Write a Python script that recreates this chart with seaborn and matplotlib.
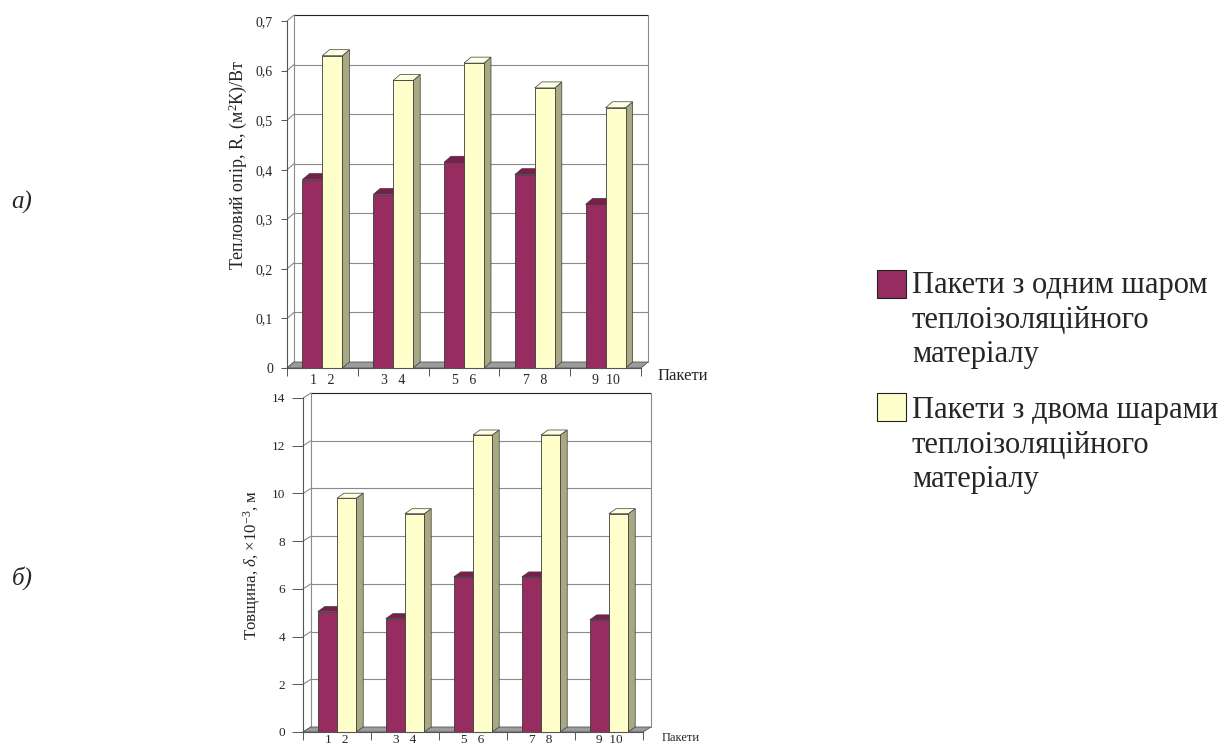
import numpy as np
import pandas as pd
import matplotlib
matplotlib.use("Agg")
import matplotlib.pyplot as plt
import seaborn as sns
from matplotlib.patches import Polygon, Rectangle
from matplotlib.lines import Line2D
from matplotlib.transforms import IdentityTransform

# ---------------- data ----------------
groups = ["1   2", "3   4", "5   6", "7   8", "9  10"]
series = ["Пакети з одним шаром\nтеплоізоляційного\nматеріалу",
          "Пакети з двома шарами\nтеплоізоляційного\nматеріалу"]
resistance_one = [0.38, 0.35, 0.415, 0.39, 0.33]
resistance_two = [0.63, 0.58, 0.615, 0.565, 0.525]
thickness_one = [5.05, 4.75, 6.5, 6.5, 4.7]
thickness_two = [9.8, 9.15, 12.45, 12.45, 9.15]
r_ticks = [0, 0.1, 0.2, 0.3, 0.4, 0.5, 0.6, 0.7]
r_ticklabels = ["0", "0,1", "0,2", "0,3", "0,4", "0,5", "0,6", "0,7"]
d_ticks = [0, 2, 4, 6, 8, 10, 12, 14]
d_ticklabels = ["0", "2", "4", "6", "8", "10", "12", "14"]

# ---------------- style ----------------
C_FRONT = ["#962C60", "#FFFFCC"]
C_TOP = ["#7A1E4B", "#FFFFE2"]
C_SIDE = ["#6A1840", "#A8A882"]
EDGE = "#3a3a3a"
GRID = "#8a8a8a"

sns.set_style("white")
plt.rcParams["font.family"] = ["Liberation Serif", "DejaVu Serif"]
plt.rcParams["mathtext.fontset"] = "custom"
plt.rcParams["mathtext.rm"] = "Liberation Serif"
plt.rcParams["mathtext.it"] = "Liberation Serif:italic"

W, H = 1226, 749
fig = plt.figure(figsize=(W / 100, H / 100), dpi=100)
fig.patch.set_facecolor("white")


def axes_px(left, right, top, bottom):
    return fig.add_axes([left / W, 1 - bottom / H, (right - left) / W, (bottom - top) / H])


def panel(ax, one, two, ticks, ticklabels, ylabel, wall, depth, tick_fs, xtick_fs,
          xlab_fs, ylabel_fs, ylabel_coords, xlab_pos, ytick_len, ytick_pad, xlab_pad):
    df = pd.DataFrame({
        "group": groups * 2,
        "series": [series[0]] * len(groups) + [series[1]] * len(groups),
        "value": list(one) + list(two),
    })
    sns.barplot(data=df, x="group", y="value", hue="series", order=groups,
                hue_order=series, palette=C_FRONT, saturation=1, width=0.565,
                gap=0, ax=ax, legend=False, edgecolor=EDGE, linewidth=0.6,
                errorbar=None)
    bars = list(ax.patches)
    ax.set_xlim(-0.5, len(groups) - 0.5)
    ax.set_ylim(ticks[0], ticks[-1])
    ax.patch.set_visible(False)

    T = ax.transData
    ident = IdentityTransform()
    wdx, wdy = wall
    bdx, bdy = depth

    xl, yb = T.transform((-0.5, ticks[0]))
    xr, yt = T.transform((len(groups) - 0.5, ticks[-1]))

    # floor
    floor = Polygon([(xl, yb), (xr, yb), (xr + wdx, yb + wdy), (xl + wdx, yb + wdy)],
                    closed=True, facecolor="#9c9c9c", edgecolor="#555555",
                    linewidth=0.6, transform=ident, clip_on=False, zorder=1)
    ax.add_artist(floor)
    # back wall grid lines + left wall diagonals
    for t in ticks:
        y = T.transform((0, t))[1]
        col = "#222222" if t == ticks[-1] else GRID
        if t != ticks[0]:
            ax.add_artist(Line2D([xl + wdx, xr + wdx], [y + wdy, y + wdy], color=col,
                                 linewidth=0.8, transform=ident, clip_on=False, zorder=0.5))
        ax.add_artist(Line2D([xl, xl + wdx], [y, y + wdy], color=GRID, linewidth=0.8,
                             transform=ident, clip_on=False, zorder=0.5))
    # wall verticals
    for x in (xl + wdx, xr + wdx):
        ax.add_artist(Line2D([x, x], [yb + wdy, yt + wdy], color=GRID, linewidth=0.8,
                             transform=ident, clip_on=False, zorder=0.5))

    # 3D faces of bars
    n = len(groups)
    for i, p in enumerate(bars):
        k = 0 if i < n else 1
        x0, w, h = p.get_x(), p.get_width(), p.get_height()
        X0, Y0 = T.transform((x0, 0))
        X1, Y1 = T.transform((x0 + w, h))
        base_z = 3 if k == 0 else 5
        p.set_zorder(base_z)
        top = Polygon([(X0, Y1), (X1, Y1), (X1 + bdx, Y1 + bdy), (X0 + bdx, Y1 + bdy)],
                      closed=True, facecolor=C_TOP[k], edgecolor=EDGE, linewidth=0.5,
                      transform=ident, clip_on=False, zorder=base_z - 0.5)
        side = Polygon([(X1, Y0), (X1, Y1), (X1 + bdx, Y1 + bdy), (X1 + bdx, Y0 + bdy)],
                       closed=True, facecolor=C_SIDE[k], edgecolor=EDGE, linewidth=0.5,
                       transform=ident, clip_on=False, zorder=base_z - 0.5)
        ax.add_artist(side)
        ax.add_artist(top)

    # axes styling
    for s in ("top", "right"):
        ax.spines[s].set_visible(False)
    for s in ("left", "bottom"):
        ax.spines[s].set_color("#555555")
        ax.spines[s].set_linewidth(0.8)
        ax.spines[s].set_zorder(6)
    ax.set_yticks(ticks)
    ax.set_yticklabels(ticklabels)
    ax.tick_params(axis="y", direction="out", length=ytick_len, width=0.7,
                   color="#555555", pad=ytick_pad, labelsize=tick_fs, left=True)
    ax.set_xticks(range(n))
    ax.set_xticklabels(groups)
    ax.set_xticks(np.arange(-0.5, n, 1.0), minor=True)
    ax.tick_params(axis="x", which="major", length=0, pad=xlab_pad, labelsize=xtick_fs)
    ax.tick_params(axis="x", which="minor", direction="out", length=6, width=0.7,
                   color="#555555", bottom=True)
    ax.set_xlabel("")
    ax.set_ylabel(ylabel, fontsize=ylabel_fs)
    ax.yaxis.set_label_coords(*ylabel_coords)
    ax.text(xlab_pos[0], xlab_pos[1], "Пакети", transform=ax.transAxes,
            ha="left", va="center", fontsize=xlab_fs)


ax1 = axes_px(287, 641, 21, 368)
panel(ax1, resistance_one, resistance_two, r_ticks, r_ticklabels,
      "Тепловий опір, R, (м$^2$К)/Вт", wall=(7, 6), depth=(7, 6), tick_fs=10,
      xtick_fs=10, xlab_fs=12, ylabel_fs=13, ylabel_coords=(-0.108, 0.585),
      xlab_pos=(1.048, -0.022), ytick_len=4, ytick_pad=6, xlab_pad=4)

ax2 = axes_px(303, 643, 398, 732)
panel(ax2, thickness_one, thickness_two, d_ticks, d_ticklabels,
      "Товщина, $\\it{δ}$, ×10$^{-3}$, м", wall=(8, 5), depth=(7, 5), tick_fs=9.5,
      xtick_fs=9.5, xlab_fs=9, ylabel_fs=12.2, ylabel_coords=(-0.118, 0.5),
      xlab_pos=(1.056, -0.018), ytick_len=8, ytick_pad=5, xlab_pad=1.5)

# panel letters
fig.text(22 / W, 1 - 202 / H, "а)", style="italic", fontsize=18, ha="center", va="center")
fig.text(22 / W, 1 - 578 / H, "б)", style="italic", fontsize=18, ha="center", va="center")

# legend
sw = [(270, 0), (393, 1)]
for top_px, k in sw:
    fig.patches.append(Rectangle((877 / W, 1 - (top_px + 28) / H), 29 / W, 28 / H,
                                 transform=fig.transFigure, facecolor=C_FRONT[k],
                                 edgecolor="#222222", linewidth=0.8))
fig.text(912 / W, 1 - 362 / H, series[0], fontsize=22, ha="left", va="baseline",
         linespacing=1.24)
fig.text(912 / W, 1 - 487 / H, series[1], fontsize=22, ha="left", va="baseline",
         linespacing=1.24)

fig.savefig("out.png", dpi=100)
